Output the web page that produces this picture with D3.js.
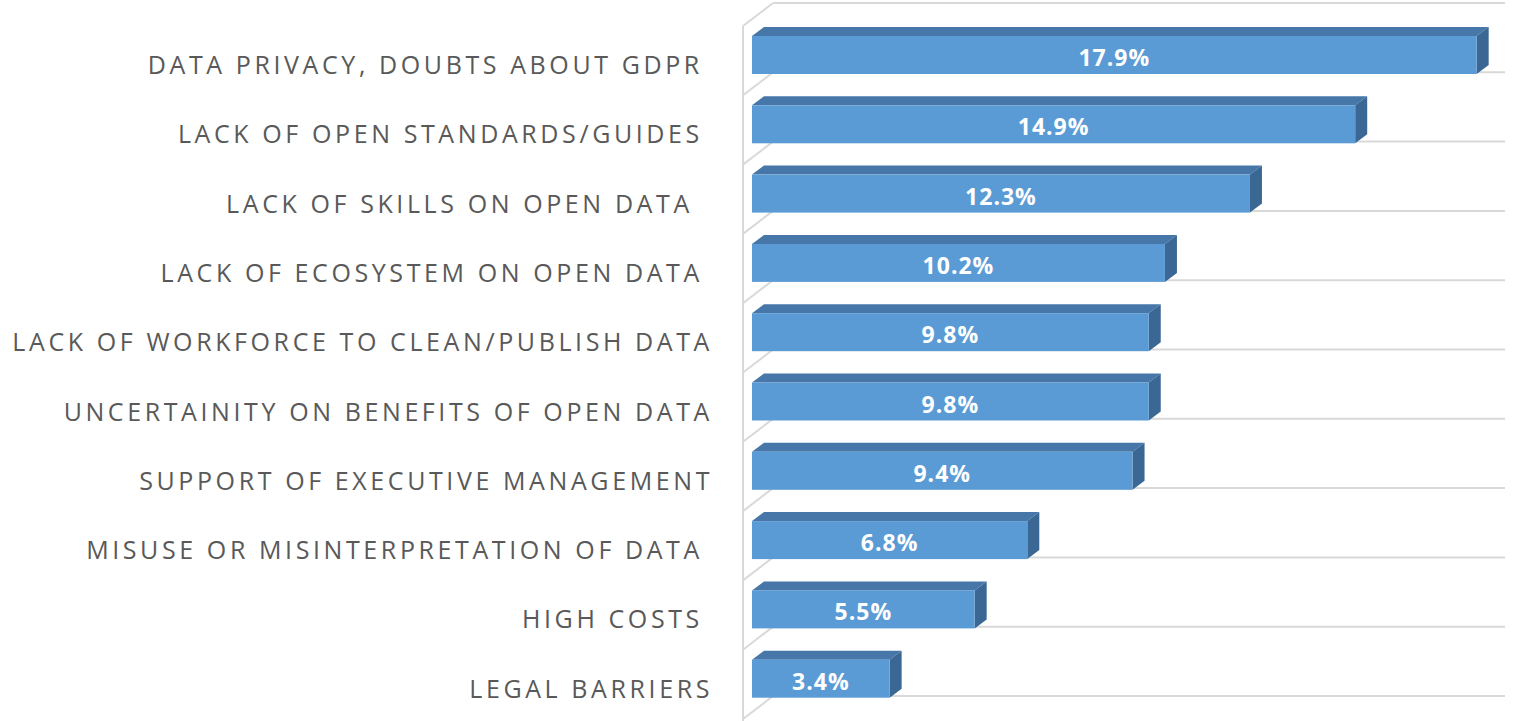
<!DOCTYPE html>
<html>
<head>
<meta charset="utf-8">
<script src="https://cdn.jsdelivr.net/npm/d3@7"></script>
<style>
  body { margin: 0; background: #fff; }
  svg text { white-space: pre; }
</style>
</head>
<body>
<div id="chart"></div>
<script>
// categories top to bottom, trailing spaces kept as in the source
const categories = [
  "DATA PRIVACY, DOUBTS ABOUT GDPR ",
  "LACK OF OPEN STANDARDS/GUIDES ",
  "LACK OF SKILLS ON OPEN DATA  ",
  "LACK OF ECOSYSTEM ON OPEN DATA ",
  "LACK OF WORKFORCE TO CLEAN/PUBLISH DATA",
  "UNCERTAINITY ON BENEFITS OF OPEN DATA",
  "SUPPORT OF EXECUTIVE MANAGEMENT",
  "MISUSE OR MISINTERPRETATION OF DATA ",
  "HIGH COSTS ",
  "LEGAL BARRIERS"
];
const values = [17.9, 14.9, 12.3, 10.2, 9.8, 9.8, 9.4, 6.8, 5.5, 3.4];
const xMax = 18.6;

const width = 1519, height = 721;
const depthX = 12, depthY = 9;   // bar depth
const wallX = 27, wallY = 23;    // side wall depth

const svg = d3.select("#chart").append("svg")
  .attr("width", width).attr("height", height);

const x = d3.scaleLinear().domain([0, xMax]).range([752, 1505]);
const y = d3.scaleBand().domain(categories).range([3, 696]).padding(0);

const data = categories.map((c, i) => ({ cat: c, value: values[i] }));

// back wall gridlines
const gridYs = categories.map(c => y(c)).concat([y.range()[1]]);
const grid = svg.append("g").attr("stroke", "#d9d9d9").attr("stroke-width", 2).attr("fill", "none");
grid.selectAll(".h").data(gridYs).join("line")
  .attr("x1", x(0) + wallX - 6).attr("x2", x(xMax))
  .attr("y1", d => d).attr("y2", d => d);
// side wall
grid.selectAll(".d").data(gridYs).join("line")
  .attr("x1", x(0) + wallX - 6).attr("y1", d => d)
  .attr("x2", x(0) - 9).attr("y2", d => d + wallY);
grid.append("line")
  .attr("x1", x(0) - 9).attr("x2", x(0) - 9)
  .attr("y1", gridYs[0] + wallY).attr("y2", height);

// bars
const bars = svg.append("g").selectAll("g").data(data).join("g");
const x0 = x(0);
bars.append("path")
  .attr("fill", "#4677a8")
  .attr("d", d => {
    const t = y(d.cat) + 33, r = x(d.value);
    return `M${x0},${t}L${x0 + depthX},${t - depthY}L${r + depthX},${t - depthY}L${r},${t}Z`;
  });
bars.append("path")
  .attr("fill", "#3a6794")
  .attr("d", d => {
    const t = y(d.cat) + 33, b = y(d.cat) + 71, r = x(d.value);
    return `M${r},${t}L${r + depthX},${t - depthY}L${r + depthX},${b - depthY}L${r},${b}Z`;
  });
bars.append("rect")
  .attr("fill", "#5b9bd5")
  .attr("x", x0)
  .attr("y", d => y(d.cat) + 33)
  .attr("width", d => x(d.value) - x0)
  .attr("height", 38);
bars.append("text")
  .attr("x", d => (x0 + x(d.value)) / 2)
  .attr("y", d => y(d.cat) + 63)
  .attr("text-anchor", "middle")
  .attr("fill", "#fff")
  .attr("font-family", "Open Sans, sans-serif")
  .attr("font-weight", "bold")
  .attr("font-size", 23)
  .attr("letter-spacing", "1px")
  .text(d => d.value.toFixed(1) + "%");

// category labels
svg.append("g").selectAll("text").data(categories).join("text")
  .attr("x", 713)
  .attr("y", d => y(d) + 71)
  .attr("text-anchor", "end")
  .attr("fill", "#595959")
  .attr("font-family", "Open Sans, sans-serif")
  .attr("font-size", 25)
  .attr("letter-spacing", "3.6px")
  .text(d => d);
</script>
</body>
</html>
